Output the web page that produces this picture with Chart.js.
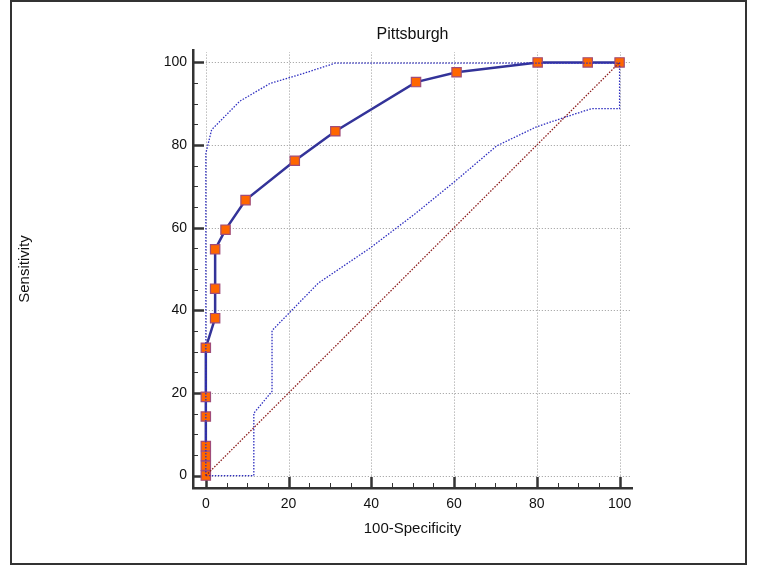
<!DOCTYPE html>
<html>
<head>
<meta charset="utf-8">
<script src="https://cdn.jsdelivr.net/npm/chart.js@4.4.1/dist/chart.umd.min.js"></script>
<style>
  html, body { margin: 0; padding: 0; background: #fff; }
  #wrap { width: 757px; height: 566px; }
</style>
</head>
<body>
<div id="wrap"><canvas id="roc" width="757" height="566"></canvas></div>
<script>
// ROC points (100-Specificity, Sensitivity)
const rocX = [0, 0, 0, 0, 0, 0, 0, 2.25, 2.25, 2.25, 4.76, 9.6, 21.5, 31.3, 50.8, 60.6, 80.2, 92.3, 100];
const rocY = [0, 2.38, 4.76, 7.14, 14.29, 19.05, 30.95, 38.1, 45.24, 54.76, 59.52, 66.67, 76.19, 83.33, 95.24, 97.62, 100, 100, 100];

// confidence bounds
const upperX = [0, 0, 1.4, 8.2, 15.5, 23.5, 31.2, 100];
const upperY = [0, 78, 83.7, 90.6, 94.9, 97.3, 99.8, 99.8];
const lowerX = [0, 11.6, 11.6, 16.0, 16.0, 27.2, 39.6, 50.5, 60.2, 70.3, 79.9, 86.4, 93.2, 100, 100];
const lowerY = [0, 0, 15.1, 20.4, 35.1, 46.6, 55.0, 63.3, 71.2, 79.8, 84.4, 86.6, 88.8, 88.8, 100];

// chance line
const diagX = [0, 100];
const diagY = [0, 100];

const tickVals = [0, 20, 40, 60, 80, 100];
const minorStep = 5;

const FONT = '"Liberation Sans", Arial, sans-serif';

const pts = (xs, ys) => xs.map((x, i) => ({ x, y: ys[i] }));

// frame, dotted grid and inward ticks
const decor = {
  id: 'decor',
  beforeDraw(chart) {
    const ctx = chart.ctx;
    ctx.save();
    ctx.fillStyle = '#fff';
    ctx.fillRect(0, 0, chart.width, chart.height);
    ctx.strokeStyle = '#333';
    ctx.lineWidth = 2;
    ctx.strokeRect(11, 1, 735, 563);
    ctx.restore();
  },
  beforeDatasetsDraw(chart) {
    const { ctx, scales: { x, y } } = chart;
    const gMax = 102.5;
    ctx.save();
    ctx.strokeStyle = '#999';
    ctx.lineWidth = 1;
    ctx.setLineDash([1, 2]);
    for (const v of tickVals) {
      const px = Math.round(x.getPixelForValue(v)) + 0.5;
      ctx.beginPath();
      ctx.moveTo(px, y.getPixelForValue(0));
      ctx.lineTo(px, y.getPixelForValue(gMax));
      ctx.stroke();
      const py = Math.round(y.getPixelForValue(v)) + 0.5;
      ctx.beginPath();
      ctx.moveTo(x.getPixelForValue(0), py);
      ctx.lineTo(x.getPixelForValue(gMax), py);
      ctx.stroke();
    }
    ctx.setLineDash([]);
    ctx.strokeStyle = '#333';
    const x0 = chart.chartArea.left, y0 = chart.chartArea.bottom;
    for (let v = 0; v <= 100; v += minorStep) {
      const major = v % 20 === 0;
      const len = major ? 11 : 5;
      ctx.lineWidth = major ? 2.5 : 1;
      const px = Math.round(x.getPixelForValue(v)) + 0.5;
      ctx.beginPath();
      ctx.moveTo(px, y0);
      ctx.lineTo(px, y0 - len);
      ctx.stroke();
      const py = Math.round(y.getPixelForValue(v)) + 0.5;
      ctx.beginPath();
      ctx.moveTo(x0, py);
      ctx.lineTo(x0 + len, py);
      ctx.stroke();
    }
    ctx.restore();
  }
};

const setTicks = s => { s.ticks = tickVals.map(v => ({ value: v })); };

new Chart(document.getElementById('roc'), {
  type: 'scatter',
  data: {
    datasets: [
      { data: pts(diagX, diagY), showLine: true, borderColor: '#8b1c1c', borderWidth: 1.3, borderDash: [1.5, 1.5], pointRadius: 0 },
      { data: pts(upperX, upperY), showLine: true, borderColor: '#2f2fc0', borderWidth: 1.3, borderDash: [1.5, 1.5], pointRadius: 0 },
      { data: pts(lowerX, lowerY), showLine: true, borderColor: '#2f2fc0', borderWidth: 1.3, borderDash: [1.5, 1.5], pointRadius: 0 },
      {
        data: pts(rocX, rocY), showLine: true, borderColor: '#333399', borderWidth: 2.5,
        pointStyle: 'rect', pointRadius: 6.6, pointBorderWidth: 1.2,
        pointBackgroundColor: '#ff6600', pointBorderColor: '#a04c7a'
      }
    ]
  },
  options: {
    responsive: false,
    animation: false,
    layout: { padding: { left: 0, right: 125, top: 0, bottom: 0 } },
    plugins: {
      legend: { display: false },
      tooltip: { enabled: false },
      title: {
        display: true, text: 'Pittsburgh', fullSize: false, color: '#111',
        font: { family: FONT, size: 16, weight: 'normal', lineHeight: 1.2 },
        padding: { top: 25.4, bottom: 5.4 }
      }
    },
    scales: {
      x: {
        type: 'linear', min: -3.1, max: 103,
        afterBuildTicks: setTicks,
        afterFit: s => { s.height = 78; },
        grid: { display: false, drawTicks: false },
        border: { display: true, color: '#333', width: 2.5 },
        ticks: { padding: 8, color: '#111', font: { family: FONT, size: 14 } },
        title: { display: true, text: '100-Specificity', color: '#111', font: { family: FONT, size: 15 }, padding: { top: 0, bottom: 28 } }
      },
      y: {
        type: 'linear', min: -3, max: 103,
        afterBuildTicks: setTicks,
        afterFit: s => { s.width = 193; },
        grid: { display: false, drawTicks: false },
        border: { display: true, color: '#333', width: 2.5 },
        ticks: { padding: 6, color: '#111', font: { family: FONT, size: 14 } },
        title: { display: true, text: 'Sensitivity', color: '#111', font: { family: FONT, size: 15 }, padding: { top: 16, bottom: 0 } }
      }
    }
  },
  plugins: [decor]
});
</script>
</body>
</html>
